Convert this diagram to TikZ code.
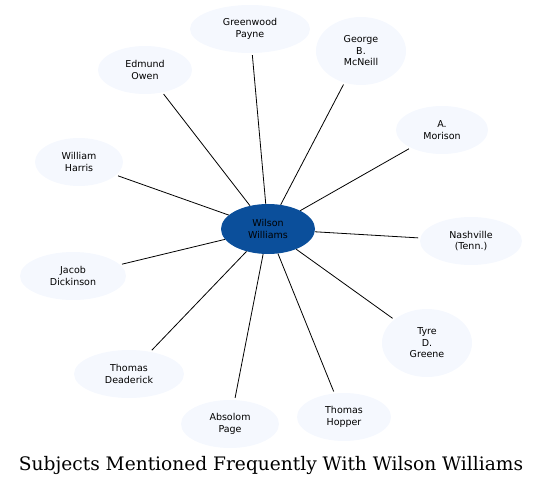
\documentclass[tikz,border=0pt]{standalone}
\usepackage{fontspec}
\usetikzlibrary{shapes.geometric}
\setmainfont{DejaVu Sans}
\newfontfamily\titlefont{DejaVu Serif}
\definecolor{hubblue}{HTML}{0B4F9B}
\definecolor{paleblue}{HTML}{F5F8FE}
\begin{document}
\begin{tikzpicture}[x=1pt,y=-1pt,
    person/.style={ellipse,fill=paleblue,align=center,inner sep=0pt,
        font=\fontsize{9.5}{11.5}\selectfont},
    hub/.style={ellipse,fill=hubblue,align=center,inner sep=0pt,
        minimum width=94pt,minimum height=50pt,
        font=\fontsize{9.5}{11.5}\selectfont},
    link/.style={draw=black,line width=0.8pt}]
    \useasboundingbox (0,0) rectangle (543,486);
    % centre
    \node[hub] (wilson) at (268,229) {Wilson\\Williams};
    % people and places round it
    \node[person,minimum width=120pt,minimum height=48pt] (payne) at (250,29) {Greenwood\\Payne};
    \node[person,minimum width=90pt,minimum height=68pt] (mcneill) at (361,51) {George\\B.\\McNeill};
    \node[person,minimum width=94pt,minimum height=48pt] (owen) at (145,70) {Edmund\\Owen};
    \node[person,minimum width=92pt,minimum height=48pt] (morison) at (442,130) {A.\\Morison};
    \node[person,minimum width=88pt,minimum height=48pt] (harris) at (79,162) {William\\Harris};
    \node[person,minimum width=102pt,minimum height=48pt] (nashville) at (471,241) {Nashville\\(Tenn.)};
    \node[person,minimum width=106pt,minimum height=48pt] (dickinson) at (73,276) {Jacob\\Dickinson};
    \node[person,minimum width=90pt,minimum height=68pt] (greene) at (427,343) {Tyre\\D.\\Greene};
    \node[person,minimum width=110pt,minimum height=48pt] (deaderick) at (129,374) {Thomas\\Deaderick};
    \node[person,minimum width=94pt,minimum height=48pt] (hopper) at (344,417) {Thomas\\Hopper};
    \node[person,minimum width=98pt,minimum height=48pt] (page) at (230,424) {Absolom\\Page};
    % connectors
    \foreach \other in {payne,mcneill,owen,morison,harris,nashville,dickinson,greene,deaderick,hopper,page}
        \draw[link,shorten >=2pt] (wilson) -- (\other);
    % caption
    \node[font=\titlefont\fontsize{18.6}{22}\selectfont] (caption) at (271,465) {Subjects Mentioned Frequently With Wilson Williams};
\end{tikzpicture}
\end{document}
